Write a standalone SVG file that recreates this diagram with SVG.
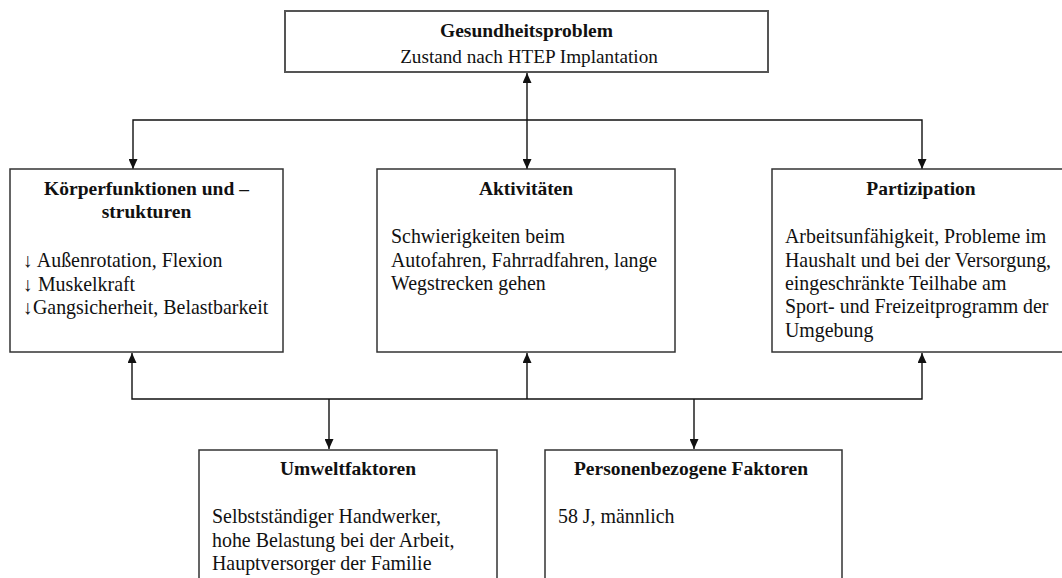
<svg xmlns="http://www.w3.org/2000/svg" width="1062" height="578" viewBox="0 0 1062 578">
<style>
.box{fill:#fff;stroke:#333;stroke-width:1.5}
.top{fill:#fff;stroke:#555;stroke-width:2}
text{font-family:"Liberation Serif","Times New Roman",serif;font-size:19.9px;fill:#111}
.t{font-weight:bold;text-anchor:middle;font-size:19.5px}
.c{text-anchor:middle;font-size:19.2px}
.ln{fill:none;stroke:#111;stroke-width:1.4}
</style>
<defs>
<marker id="ah" viewBox="0 0 10 9" refX="10" refY="4.5" markerWidth="10" markerHeight="9" markerUnits="userSpaceOnUse" orient="auto-start-reverse">
<path d="M0,0 L10,4.5 L0,9 z" fill="#111"/>
</marker>
</defs>
<rect width="1062" height="578" fill="#fff"/>
<g id="connectors">
<line class="ln" x1="527" y1="73" x2="527" y2="169" marker-start="url(#ah)" marker-end="url(#ah)"/>
<polyline class="ln" points="133,169 133,120 922,120 922,169" marker-start="url(#ah)" marker-end="url(#ah)"/>
<polyline class="ln" points="132,353 132,399 922,399 922,353" marker-start="url(#ah)" marker-end="url(#ah)"/>
<line class="ln" x1="527" y1="399" x2="527" y2="353" marker-end="url(#ah)"/>
<line class="ln" x1="329" y1="399" x2="329" y2="449" marker-end="url(#ah)"/>
<line class="ln" x1="694" y1="399" x2="694" y2="449" marker-end="url(#ah)"/>
</g>
<g id="gesundheitsproblem">
<rect class="top" x="285" y="11" width="483" height="61"/>
<text class="t" x="526.5" y="37">Gesundheitsproblem</text>
<text class="c" x="529" y="63">Zustand nach HTEP Implantation</text>
</g>
<g id="koerperfunktionen">
<rect class="box" x="10" y="169" width="273" height="183"/>
<text class="t" x="146.5" y="195">Körperfunktionen und –</text>
<text class="t" x="146.5" y="218">strukturen</text>
<text x="23" y="267">↓ Außenrotation, Flexion</text>
<text x="23" y="291">↓ Muskelkraft</text>
<text x="23" y="314">↓Gangsicherheit, Belastbarkeit</text>
</g>
<g id="aktivitaeten">
<rect class="box" x="377" y="169" width="298" height="183"/>
<text class="t" x="526" y="195">Aktivitäten</text>
<text x="391" y="243">Schwierigkeiten beim</text>
<text x="391" y="267">Autofahren, Fahrradfahren, lange</text>
<text x="391" y="290">Wegstrecken gehen</text>
</g>
<g id="partizipation">
<rect class="box" x="772" y="169" width="300" height="183"/>
<text class="t" x="921" y="195">Partizipation</text>
<text x="785" y="243">Arbeitsunfähigkeit, Probleme im</text>
<text x="785" y="267">Haushalt und bei der Versorgung,</text>
<text x="785" y="290">eingeschränkte Teilhabe am</text>
<text x="785" y="313">Sport- und Freizeitprogramm der</text>
<text x="785" y="337">Umgebung</text>
</g>
<g id="umweltfaktoren">
<rect class="box" x="199" y="450" width="298" height="160"/>
<text class="t" x="348" y="475">Umweltfaktoren</text>
<text x="212" y="523">Selbstständiger Handwerker,</text>
<text x="212" y="547">hohe Belastung bei der Arbeit,</text>
<text x="212" y="570">Hauptversorger der Familie</text>
</g>
<g id="personenbezogene">
<rect class="box" x="545" y="450" width="297" height="160"/>
<text class="t" x="691" y="475">Personenbezogene Faktoren</text>
<text x="558" y="523">58 J, männlich</text>
</g>
</svg>
